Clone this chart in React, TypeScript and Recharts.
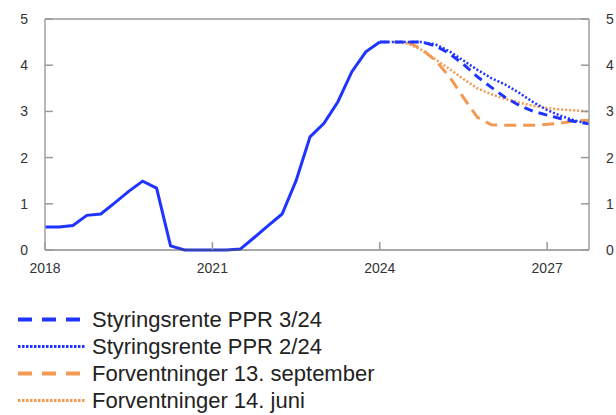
import { LineChart, Line, XAxis, YAxis, ReferenceLine } from "recharts";

const years = ["2018", "2019", "2020", "2021", "2022", "2023", "2024", "2025", "2026", "2027"];
const quarterNames = ["Q1", "Q2", "Q3", "Q4"];
const quarters = years.flatMap((y) => quarterNames.map((q) => y + q));
const xTickQuarters = ["2018Q1", "2021Q1", "2024Q1", "2027Q1"];
const yTicks = [0, 1, 2, 3, 4, 5];

// policy rate, 2018Q1 - 2024Q1
const history = [
  0.5, 0.5, 0.53, 0.75, 0.78, 1.02, 1.27, 1.49, 1.34, 0.09, 0, 0, 0, 0, 0.02, 0.27,
  0.53, 0.78, 1.5, 2.45, 2.74, 3.21, 3.86, 4.29, 4.5,
];
// projections from 2024Q1
const ppr324 = [4.5, 4.5, 4.5, 4.5, 4.42, 4.25, 4.02, 3.75, 3.52, 3.3, 3.13, 3.0, 2.92, 2.84, 2.78, 2.73];
const ppr224 = [4.5, 4.5, 4.5, 4.5, 4.45, 4.3, 4.1, 3.9, 3.72, 3.58, 3.4, 3.2, 3.03, 2.9, 2.8, 2.73];
// market expectations, 13 Sept from 2024Q3, 14 June from 2024Q2
const sep13 = [4.5, 4.35, 4.1, 3.75, 3.3, 2.87, 2.71, 2.7, 2.7, 2.7, 2.72, 2.75, 2.79, 2.81];
const jun14 = [4.5, 4.47, 4.33, 4.12, 3.92, 3.7, 3.5, 3.37, 3.27, 3.19, 3.12, 3.07, 3.04, 3.02, 3.0];

const at = (arr: number[], start: number, i: number) =>
  i >= start && i - start < arr.length ? arr[i - start] : null;

const rows = quarters.map((q, i) => ({
  i,
  q,
  hist: at(history, 0, i),
  ppr324: at(ppr324, 24, i),
  ppr224: at(ppr224, 24, i),
  sep13: at(sep13, 26, i),
  jun14: at(jun14, 25, i),
}));

const BLUE = "#1f35ff";
const ORANGE = "#f39a52";
const FONT = "'Liberation Sans', Arial, sans-serif";
const TICK = "#9a9a9a";

const legendItems = [
  { label: "Styringsrente PPR 3/24", color: BLUE, dash: "14 10", width: 4 },
  { label: "Styringsrente PPR 2/24", color: BLUE, dash: "2.5 1.5", width: 3 },
  { label: "Forventninger 13. september", color: ORANGE, dash: "14 10", width: 4 },
  { label: "Forventninger 14. juni", color: ORANGE, dash: "2.5 1.5", width: 3 },
];

// ticks point inward, labels stay outside
const LeftTick = ({ x, y, payload }: any) => (
  <g>
    <line x1={x + 17} x2={x + 25} y1={y} y2={y} stroke={TICK} strokeWidth={1.5} />
    <text x={x} y={y} dy="0.355em" textAnchor="end" fill="#333" fontSize={14} fontFamily={FONT}>
      {payload.value}
    </text>
  </g>
);

const RightTick = ({ x, y, payload }: any) => (
  <g>
    <line x1={x - 17} x2={x - 25} y1={y} y2={y} stroke={TICK} strokeWidth={1.5} />
    <text x={x} y={y} dy="0.355em" textAnchor="start" fill="#333" fontSize={14} fontFamily={FONT}>
      {payload.value}
    </text>
  </g>
);

const BottomTick = ({ x, y, payload }: any) => (
  <g>
    <line x1={x} x2={x} y1={y - 13} y2={y - 21} stroke={TICK} strokeWidth={1.5} />
    <text x={x} y={y} dy="0.71em" textAnchor="middle" fill="#333" fontSize={14} fontFamily={FONT}>
      {quarters[payload.value].slice(0, 4)}
    </text>
  </g>
);

export default function App() {
  return (
    <div style={{ position: "absolute", left: 0, top: 0, width: 616, height: 415, background: "#fff" }}>
      <LineChart width={616} height={280} data={rows} margin={{ top: 19, right: 0, bottom: 0, left: 0 }}>
        <XAxis
          dataKey="i"
          type="number"
          domain={[0, quarters.length - 1]}
          ticks={xTickQuarters.map((q) => quarters.indexOf(q))}
          height={30}
          tickSize={0}
          tickMargin={13}
          axisLine={{ stroke: "#555", strokeWidth: 1.2 }}
          tickLine={false}
          tick={<BottomTick />}
        />
        <YAxis
          yAxisId="left"
          orientation="left"
          width={45}
          domain={[0, 5]}
          ticks={yTicks}
          tickSize={0}
          tickMargin={17}
          axisLine={{ stroke: TICK, strokeWidth: 1.4 }}
          tickLine={false}
          tick={<LeftTick />}
        />
        <YAxis
          yAxisId="right"
          orientation="right"
          width={27}
          domain={[0, 5]}
          ticks={yTicks}
          tickSize={0}
          tickMargin={17}
          axisLine={{ stroke: TICK, strokeWidth: 1.4 }}
          tickLine={false}
          tick={<RightTick />}
        />
        <ReferenceLine yAxisId="right" y={5} stroke={TICK} strokeWidth={1.4} />
        <Line yAxisId="right" dataKey="hist" stroke="none" dot={false} activeDot={false} isAnimationActive={false} />
        <Line yAxisId="left" dataKey="jun14" stroke={ORANGE} strokeWidth={2.5} strokeDasharray="2 2" dot={false} isAnimationActive={false} />
        <Line yAxisId="left" dataKey="sep13" stroke={ORANGE} strokeWidth={3} strokeDasharray="12 7" dot={false} isAnimationActive={false} />
        <Line yAxisId="left" dataKey="ppr224" stroke={BLUE} strokeWidth={2.5} strokeDasharray="2 2" dot={false} isAnimationActive={false} />
        <Line yAxisId="left" dataKey="ppr324" stroke={BLUE} strokeWidth={3} strokeDasharray="9 6" dot={false} isAnimationActive={false} />
        <Line yAxisId="left" dataKey="hist" stroke={BLUE} strokeWidth={3} dot={false} isAnimationActive={false} />
      </LineChart>
      <div style={{ position: "absolute", left: 18, top: 306, fontFamily: FONT, fontSize: 22, color: "#222" }}>
        {legendItems.map((it) => (
          <div key={it.label} style={{ display: "flex", alignItems: "center", height: 27, lineHeight: "27px" }}>
            <svg width={74} height={27} style={{ display: "block" }}>
              <line x1={0} y1={13.5} x2={67} y2={13.5} stroke={it.color} strokeWidth={it.width} strokeDasharray={it.dash} />
            </svg>
            <span>{it.label}</span>
          </div>
        ))}
      </div>
    </div>
  );
}
